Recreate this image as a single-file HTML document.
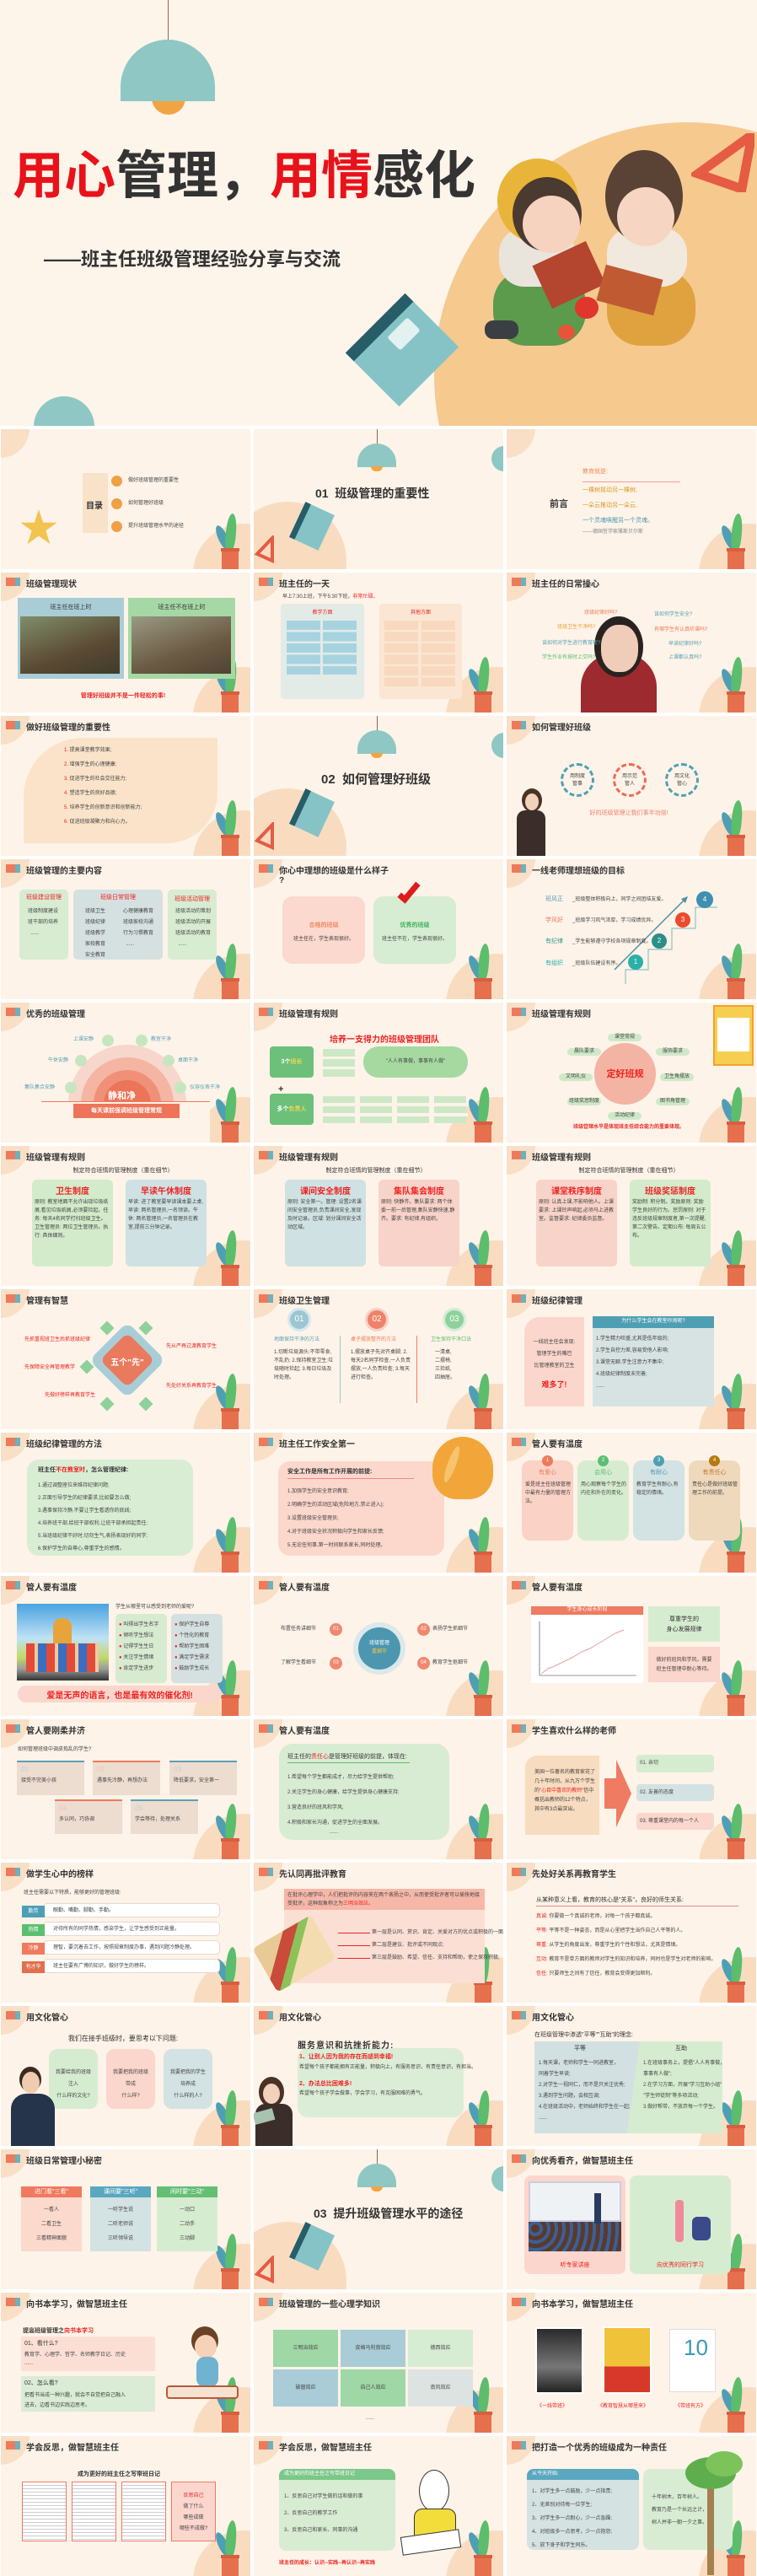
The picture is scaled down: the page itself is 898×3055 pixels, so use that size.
<!DOCTYPE html>
<html><head><meta charset="utf-8"><style>
*{margin:0;padding:0;box-sizing:border-box}
body{width:898px;height:3052px;position:relative;background:#fff;font-family:"Liberation Sans","Noto Sans CJK SC",sans-serif;color:#333;overflow:hidden}
.a{position:absolute}
.s{position:absolute;width:296px;height:166px;background:#fdf3e8;overflow:hidden}
.tl{position:absolute;left:-36px;top:-36px;width:70px;height:70px;border-radius:50%;background:#f9dfc5}
.ic{position:absolute;left:6px;top:6px;width:11px;height:10px;background:#ee7a5c}
.ic:after{content:"";position:absolute;left:11px;top:0;width:6px;height:10px;background:#6fb0be}
.tt{position:absolute;left:30px;top:5px;font-size:10px;font-weight:bold;color:#333;white-space:nowrap}
.pc{position:absolute;left:228px;top:112px;width:120px;height:120px;border-radius:50%;background:#f9dcc0}
.l1{position:absolute;left:258px;top:113px;width:11px;height:32px;border-radius:50%;background:#4f9fb4;transform:rotate(-25deg)}
.l2{position:absolute;left:267px;top:100px;width:12px;height:45px;border-radius:50% 50% 40% 40%;background:#5cbd6c;transform:rotate(5deg)}
.pot{position:absolute;left:262px;top:141px;width:20px;height:26px;background:#e66f4e}
.pot:before{content:"";position:absolute;left:-1px;top:0;width:22px;height:4px;background:#d75f40}
.t6{font-size:6px;line-height:9px;color:#444;white-space:nowrap}
.t7{font-size:7px;line-height:10px;color:#333;white-space:nowrap}
.c{text-align:center}
.r{color:#e22}
.box{position:absolute;border-radius:8px}
</style></head><body>

<!-- HERO -->
<div class="a" style="left:0;top:0;width:898px;height:505px;background:#fdf4ea;overflow:hidden">
  <div class="a" style="left:515px;top:145px;width:600px;height:600px;border-radius:50%;background:#f6c98f"></div>
  <div class="a" style="left:199px;top:0;width:1px;height:60px;background:#8a6a50"></div>
  <div class="a" style="left:180px;top:110px;width:40px;height:26px;border-radius:0 0 20px 20px;background:#f2a443"></div>
  <div class="a" style="left:143px;top:47px;width:112px;height:73px;border-radius:56px 56px 0 0;background:#8ec7c4"></div>
  <div class="a" style="left:15px;top:168px;font-size:61px;font-weight:bold;white-space:nowrap;letter-spacing:0px;line-height:80px"><span style="color:#e8121a">用心</span>管理，<span style="color:#e8121a">用情</span>感化</div>
  <div class="a" style="left:52px;top:290px;font-size:22px;font-weight:bold;white-space:nowrap">——班主任班级管理经验分享与交流</div>
  <!-- book -->
  <div class="a" style="left:432px;top:365px;width:90px;height:100px;background:#86c3c6;transform:rotate(45deg);border-left:14px solid #275d68"></div>
  <div class="a" style="left:462px;top:385px;width:34px;height:22px;background:#e3f1f0;transform:rotate(-45deg);border-radius:3px"></div>
  <!-- triangle -->
  <svg class="a" style="left:820px;top:158px" width="75" height="70"><polygon points="72,2 8,48 60,66" fill="none" stroke="#e65b44" stroke-width="11"/></svg>
  <!-- kids -->
  <div class="a" style="left:585px;top:320px;width:110px;height:90px;border-radius:40px;background:#5c9a4c"></div>
  <div class="a" style="left:575px;top:380px;width:40px;height:22px;border-radius:10px;background:#3a3f44"></div>
  <div class="a" style="left:592px;top:270px;width:90px;height:70px;border-radius:30px;background:#e9e5dd"></div>
  <div class="a" style="left:590px;top:188px;width:96px;height:100px;border-radius:50%;background:#e8b53a"></div>
  <div class="a" style="left:608px;top:210px;width:82px;height:88px;border-radius:50%;background:#4a3a30"></div>
  <div class="a" style="left:620px;top:232px;width:68px;height:68px;border-radius:50%;background:#f5d3bf"></div>
  <div class="a" style="left:720px;top:320px;width:105px;height:90px;border-radius:40px;background:#dfa23e"></div>
  <div class="a" style="left:720px;top:270px;width:95px;height:70px;border-radius:30px;background:#f1e9de"></div>
  <div class="a" style="left:718px;top:178px;width:92px;height:110px;border-radius:50%;background:#5a4334"></div>
  <div class="a" style="left:732px;top:222px;width:68px;height:70px;border-radius:50%;background:#f6d6c2"></div>
  <div class="a" style="left:640px;top:298px;width:70px;height:56px;background:#b4452f;transform:rotate(-25deg)"></div>
  <div class="a" style="left:712px;top:322px;width:70px;height:44px;background:#c05a33;transform:rotate(15deg)"></div>
  <div class="a" style="left:682px;top:352px;width:28px;height:26px;border-radius:50%;background:#e0362b"></div>
  <div class="a" style="left:662px;top:385px;width:20px;height:18px;border-radius:50%;background:#e6553a"></div>
  <div class="a" style="left:40px;top:470px;width:72px;height:72px;border-radius:50%;background:#8ec7c4"></div>
</div>

<!-- ROW 0 -->
<div class="s" style="left:1px;top:509px"><div class="tl"></div><div class="pc"></div><div class="l1"></div><div class="l2"></div><div class="pot"></div>
  <div class="a" style="left:97px;top:52px;width:30px;height:71px;background:#f8e2c8"></div>
  <div class="a" style="left:101px;top:82px;font-size:10px;font-weight:bold">目录</div>
  <div class="a" style="left:131px;top:55px;width:13px;height:13px;border-radius:50%;background:#eea046"></div>
  <div class="a" style="left:131px;top:82px;width:13px;height:13px;border-radius:50%;background:#eea046"></div>
  <div class="a" style="left:131px;top:109px;width:13px;height:13px;border-radius:50%;background:#eea046"></div>
  <div class="a t6" style="left:151px;top:57px">做好班级管理的重要性</div>
  <div class="a t6" style="left:151px;top:84px">如何管理好班级</div>
  <div class="a t6" style="left:151px;top:111px">提升班级管理水平的途径</div>
  <div class="a" style="left:22px;top:92px;font-size:46px;color:#f2c34f;line-height:50px">★</div>
</div>
<div class="s" style="left:301px;top:509px">
  <div class="a" style="left:-30px;top:86px;width:140px;height:140px;border-radius:50%;background:#f9dcc0"></div>
  <div class="a" style="left:146px;top:0;width:1px;height:18px;background:#8a6a50"></div>
  <div class="a" style="left:123px;top:17px;width:46px;height:28px;border-radius:23px 23px 0 0;background:#8ec7c4"></div>
  <div class="a" style="left:139px;top:44px;width:14px;height:6px;border-radius:0 0 7px 7px;background:#f2a443"></div>
  <div class="a" style="left:282px;top:20px;width:30px;height:30px;border-radius:50%;background:#8ec7c4"></div>
  <div class="a" style="left:73px;top:66px;font-size:14px;font-weight:bold;white-space:nowrap">01&nbsp; 班级管理的重要性</div>
  <div class="a" style="left:50px;top:92px;width:38px;height:46px;background:#86c3c6;transform:rotate(25deg);border-left:7px solid #275d68"></div>
  <svg class="a" style="left:0;top:126px" width="30" height="34"><polygon points="22,3 4,22 22,30" fill="none" stroke="#e65b44" stroke-width="4"/></svg>
</div>
<div class="s" style="left:601px;top:509px"><div class="tl"></div><div class="pc"></div><div class="l1"></div><div class="l2"></div><div class="pot"></div>
  <div class="a" style="left:51px;top:80px;font-size:11px;font-weight:bold">前言</div>
  <div class="a t7" style="left:90px;top:46px;color:#ee8c5c">教育就是:</div>
  <div class="a" style="left:90px;top:62px;width:116px;height:1px;background:#f39a9a"></div>
  <div class="a t7" style="left:90px;top:68px;color:#d89a2a">一棵树摇动另一棵树,</div>
  <div class="a t7" style="left:90px;top:86px;color:#d89a2a">一朵云推动另一朵云,</div>
  <div class="a t7" style="left:90px;top:104px;color:#4a9ab0">一个灵魂唤醒另一个灵魂。</div>
  <div class="a t6" style="left:90px;top:118px;color:#888">——德国哲学家雅斯贝尔斯</div>
</div>

<!-- ROW 1 -->
<div class="s" style="left:1px;top:679px"><div class="tl"></div><div class="pc"></div><div class="l1"></div><div class="l2"></div><div class="pot"></div><div class="ic"></div><div class="tt">班级管理现状</div>
  <div class="a" style="left:20px;top:30px;width:126px;height:96px;background:#a9cdd6"></div>
  <div class="a" style="left:151px;top:30px;width:127px;height:96px;background:#a6d8a6"></div>
  <div class="a t7 c" style="left:20px;top:37px;width:126px">班主任在班上时</div>
  <div class="a t7 c" style="left:151px;top:37px;width:127px">班主任不在班上时</div>
  <div class="a" style="left:23px;top:52px;width:118px;height:68px;background:linear-gradient(160deg,#7f8e6a,#5b4a34 60%,#3f3b2c)"></div>
  <div class="a" style="left:155px;top:52px;width:118px;height:68px;background:linear-gradient(160deg,#9a9a84,#6b5a43 60%,#504234)"></div>
  <div class="a t7 c r" style="left:0;top:142px;width:290px;font-weight:bold">管理好班级并不是一件轻松的事!</div>
</div>
<div class="s" style="left:301px;top:679px"><div class="tl"></div><div class="pc"></div><div class="l1"></div><div class="l2"></div><div class="pot"></div><div class="ic"></div><div class="tt">班主任的一天</div>
  <div class="a t6" style="left:34px;top:25px">早上7:30上班，下午5:30下班，<span class="r">非常忙碌。</span></div>
  <div class="box" style="left:32px;top:37px;width:99px;height:113px;background:#e3ebe7;border-radius:4px"></div>
  <div class="box" style="left:149px;top:37px;width:98px;height:113px;background:#fae6d3;border-radius:4px"></div>
  <div class="a t6 c r" style="left:32px;top:44px;width:99px">教学方面</div>
  <div class="a t6 c r" style="left:149px;top:44px;width:98px">其他方面</div>
  <div class="a" style="left:39px;top:57px;width:40px;height:64px;background:repeating-linear-gradient(#a7d3e0 0 11px,transparent 11px 13.5px)"></div>
  <div class="a" style="left:82px;top:57px;width:40px;height:64px;background:repeating-linear-gradient(#a7d3e0 0 11px,transparent 11px 13.5px)"></div>
  <div class="a" style="left:155px;top:57px;width:40px;height:78px;background:repeating-linear-gradient(#f8d9bf 0 11px,transparent 11px 13.5px)"></div>
  <div class="a" style="left:199px;top:57px;width:40px;height:78px;background:repeating-linear-gradient(#f8d9bf 0 11px,transparent 11px 13.5px)"></div>
</div>
<div class="s" style="left:601px;top:679px"><div class="tl"></div><div class="pc"></div><div class="l1"></div><div class="l2"></div><div class="pot"></div><div class="ic"></div><div class="tt">班主任的日常操心</div>
  <div class="a" style="left:88px;top:96px;width:90px;height:80px;border-radius:40px 40px 0 0;background:#9c2a2f"></div>
  <div class="a" style="left:104px;top:52px;width:58px;height:72px;border-radius:50%;background:#2a2220"></div>
  <div class="a" style="left:112px;top:62px;width:44px;height:56px;border-radius:45%;background:#f0cdb8"></div>
  <div class="a t6" style="left:92px;top:44px;color:#ee7a5c">班级纪律好吗?</div>
  <div class="a t6" style="left:60px;top:61px;color:#e8a040">班级卫生干净吗?</div>
  <div class="a t6" style="left:42px;top:80px;color:#5aa0b5">该如何对学生进行教育呢?</div>
  <div class="a t6" style="left:42px;top:97px;color:#5abf70">学生作业有按时上交吗?</div>
  <div class="a t6" style="left:175px;top:46px;color:#5aa0b5">该如何学生安全?</div>
  <div class="a t6" style="left:175px;top:64px;color:#ee7a5c">有哪学生有认真听课吗?</div>
  <div class="a t6" style="left:192px;top:81px;color:#5aa0b5">早读纪律好吗?</div>
  <div class="a t6" style="left:192px;top:97px;color:#5aa0b5">上课都认真吗?</div>
</div>

<!-- ROW 2 -->
<div class="s" style="left:1px;top:849px"><div class="tl"></div><div class="pc"></div><div class="l1"></div><div class="l2"></div><div class="pot"></div><div class="ic"></div><div class="tt">做好班级管理的重要性</div>
  <div class="a" style="left:27px;top:26px;width:230px;height:125px;background:#fae3c9;border-radius:70px 0 60px 0"></div>
  <div class="a t6" style="left:75px;top:37px"><span class="r">1.</span> 提高课堂教学效果;</div>
  <div class="a t6" style="left:75px;top:54px"><span class="r">2.</span> 增强学生的心理健康;</div>
  <div class="a t6" style="left:75px;top:71px"><span class="r">3.</span> 促进学生的社会交往能力;</div>
  <div class="a t6" style="left:75px;top:88px"><span class="r">4.</span> 塑造学生的良好品德;</div>
  <div class="a t6" style="left:75px;top:105px"><span class="r">5.</span> 培养学生的创新意识和创新能力;</div>
  <div class="a t6" style="left:75px;top:122px"><span class="r">6.</span> 促进班级凝聚力和向心力。</div>
</div>
<div class="s" style="left:301px;top:849px">
  <div class="a" style="left:-30px;top:86px;width:140px;height:140px;border-radius:50%;background:#f9dcc0"></div>
  <div class="a" style="left:146px;top:0;width:1px;height:18px;background:#8a6a50"></div>
  <div class="a" style="left:123px;top:17px;width:46px;height:28px;border-radius:23px 23px 0 0;background:#8ec7c4"></div>
  <div class="a" style="left:139px;top:44px;width:14px;height:6px;border-radius:0 0 7px 7px;background:#f2a443"></div>
  <div class="a" style="left:282px;top:20px;width:30px;height:30px;border-radius:50%;background:#8ec7c4"></div>
  <div class="a" style="left:80px;top:64px;font-size:15px;font-weight:bold;white-space:nowrap">02&nbsp; 如何管理好班级</div>
  <div class="a" style="left:50px;top:92px;width:38px;height:46px;background:#86c3c6;transform:rotate(25deg);border-left:7px solid #275d68"></div>
  <svg class="a" style="left:0;top:126px" width="30" height="34"><polygon points="22,3 4,22 22,30" fill="none" stroke="#e65b44" stroke-width="4"/></svg>
</div>
<div class="s" style="left:601px;top:849px"><div class="tl"></div><div class="pc"></div><div class="l1"></div><div class="l2"></div><div class="pot"></div><div class="ic"></div><div class="tt">如何管理好班级</div>
  <div class="a t6 c" style="left:64px;top:56px;width:40px;height:40px;border-radius:50%;border:3px dashed #4f9fb4;padding-top:9px;line-height:9px;white-space:normal">用制度<br>管事</div>
  <div class="a t6 c" style="left:126px;top:56px;width:40px;height:40px;border-radius:50%;border:3px dashed #ee6a54;padding-top:9px;line-height:9px;white-space:normal">用示范<br>管人</div>
  <div class="a t6 c" style="left:188px;top:56px;width:40px;height:40px;border-radius:50%;border:3px dashed #4f9fb4;padding-top:9px;line-height:9px;white-space:normal">用文化<br>管心</div>
  <div class="a t7 c" style="left:70px;top:111px;width:150px;color:#ef8070">好的班级管理让我们事半功倍!</div>
  <div class="a" style="left:18px;top:86px;width:24px;height:28px;border-radius:50%;background:#4a3325"></div>
  <div class="a" style="left:22px;top:92px;width:16px;height:20px;border-radius:50%;background:#f3d2bd"></div>
  <div class="a" style="left:12px;top:112px;width:34px;height:56px;border-radius:10px 10px 0 0;background:#3a2d2a"></div>
</div>

<!-- ROW 3 -->
<div class="s" style="left:1px;top:1019px"><div class="tl"></div><div class="pc"></div><div class="l1"></div><div class="l2"></div><div class="pot"></div><div class="ic"></div><div class="tt">班级管理的主要内容</div>
  <div class="box" style="left:22px;top:36px;width:58px;height:83px;background:#d8ecd2;border-radius:5px"></div>
  <div class="box" style="left:86px;top:36px;width:106px;height:83px;background:#d5e1e0;border-radius:5px"></div>
  <div class="box" style="left:198px;top:36px;width:58px;height:83px;background:#d8ecd2;border-radius:5px"></div>
  <div class="a t7 c r" style="left:22px;top:41px;width:58px">班级建设管理</div>
  <div class="a t7 c r" style="left:86px;top:41px;width:106px">班级日常管理</div>
  <div class="a t7 c r" style="left:198px;top:43px;width:58px">班级活动管理</div>
  <div class="a t6" style="left:32px;top:56px;line-height:13px">班级制度建设<br>班干部的培养<br>&nbsp;&nbsp;......</div>
  <div class="a t6" style="left:100px;top:56px;line-height:13px">班级卫生<br>班级纪律<br>班级教学<br>家校教育<br>安全教育</div>
  <div class="a t6" style="left:145px;top:56px;line-height:13px">心理健康教育<br>班级家校沟通<br>行为习惯教育<br>&nbsp;&nbsp;......</div>
  <div class="a t6" style="left:207px;top:56px;line-height:13px">班级活动的策划<br>班级活动的开展<br>班级活动的教育<br>&nbsp;&nbsp;......</div>
</div>
<div class="s" style="left:301px;top:1019px"><div class="tl"></div><div class="pc"></div><div class="l1"></div><div class="l2"></div><div class="pot"></div><div class="ic"></div><div class="tt">你心中理想的班级是什么样子<br>?</div>
  <div class="box" style="left:34px;top:44px;width:98px;height:80px;background:#fbd9cf;border-radius:12px"></div>
  <div class="box" style="left:142px;top:44px;width:98px;height:80px;background:#d6ecd3;border-radius:12px"></div>
  <div class="a t7 c" style="left:34px;top:74px;width:98px;color:#ef8a60;font-weight:bold">合格的班级</div>
  <div class="a t6 c" style="left:34px;top:91px;width:98px">班主任在，学生表现很好。</div>
  <div class="a t7 c" style="left:142px;top:74px;width:98px;color:#3db35a;font-weight:bold">优秀的班级</div>
  <div class="a t6 c" style="left:142px;top:91px;width:98px">班主任不在，学生表现很好。</div>
  <div class="a" style="left:178px;top:24px;width:12px;height:28px;border-right:7px solid #dd1c1c;border-bottom:7px solid #dd1c1c;transform:rotate(40deg)"></div>
</div>
<div class="s" style="left:601px;top:1019px"><div class="tl"></div><div class="pc"></div><div class="l1"></div><div class="l2"></div><div class="pot"></div><div class="ic"></div><div class="tt">一线老师理想班级的目标</div>
  <svg class="a" style="left:0;top:0" width="296" height="166"><polyline points="141,148 141,131 168,131 168,107 196,107 196,82 224,82 224,57 250,57" fill="none" stroke="#8fc2c8" stroke-width="1.2"/><line x1="128" y1="131" x2="213" y2="46" stroke="#4f8fa0" stroke-width="1.5"/><polygon points="215,44 207,47 212,52" fill="#4f8fa0"/></svg>
  <div class="a t6 c" style="left:144px;top:113px;width:18px;height:18px;border-radius:50%;background:#2ab0a8;color:#fff;line-height:18px;font-size:8px">1</div>
  <div class="a t6 c" style="left:172px;top:88px;width:18px;height:18px;border-radius:50%;background:#2b8f88;color:#fff;line-height:18px;font-size:8px">2</div>
  <div class="a t6 c" style="left:200px;top:63px;width:18px;height:18px;border-radius:50%;background:#ea4b2e;color:#fff;line-height:18px;font-size:8px">3</div>
  <div class="a t6 c" style="left:225px;top:38px;width:20px;height:20px;border-radius:50%;background:#3f8fb0;color:#fff;line-height:20px;font-size:8px">4</div>
  <div class="a t7" style="left:46px;top:43px;color:#4f9fb4">班风正</div><div class="a t6" style="left:78px;top:44px">_班级整体积极向上，同学之间团结友爱。</div>
  <div class="a t7" style="left:46px;top:68px;color:#ee7a5c">学风好</div><div class="a t6" style="left:78px;top:69px">_班级学习风气浓厚，学习成绩优异。</div>
  <div class="a t7" style="left:46px;top:93px;color:#3c9a8e">有纪律</div><div class="a t6" style="left:78px;top:94px">_学生能够遵守学校各项规章制度。</div>
  <div class="a t7" style="left:46px;top:119px;color:#2ab0a8">有组织</div><div class="a t6" style="left:78px;top:120px">_班级队伍建设有序。</div>
</div>

<!-- ROW 4 -->
<div class="s" style="left:1px;top:1189px"><div class="tl"></div><div class="pc"></div><div class="l1"></div><div class="l2"></div><div class="pot"></div><div class="ic"></div><div class="tt">优秀的班级管理</div>
  <div class="a" style="left:80px;top:50px;width:140px;height:140px;border-radius:50%;background:#f7d6cb"></div>
  <div class="a" style="left:95px;top:65px;width:110px;height:110px;border-radius:50%;background:#f4b5a3"></div>
  <div class="a" style="left:110px;top:80px;width:80px;height:80px;border-radius:50%;background:#f09079"></div>
  <div class="a" style="left:122px;top:92px;width:56px;height:56px;border-radius:50%;background:#ec7458"></div>
  <div class="a" style="left:48px;top:118px;width:200px;height:50px;background:#fdf3e8"></div>
  <div class="a" style="left:48px;top:117px;width:200px;height:1px;background:#ee7a5c"></div>
  <div class="a" style="left:127px;top:102px;font-size:11px;font-weight:bold;color:#fff">静和净</div>
  <div class="a t7 c" style="left:86px;top:120px;width:126px;height:17px;line-height:17px;background:#ee7459;color:#fff;font-weight:bold">每天课前强调班级管理常规</div>
  <div class="a" style="left:120px;top:38px;width:14px;height:14px;border-radius:50%;background:#c7e6bf"></div>
  <div class="a" style="left:160px;top:38px;width:14px;height:14px;border-radius:50%;background:#c7e6bf"></div>
  <div class="a" style="left:88px;top:62px;width:14px;height:14px;border-radius:50%;background:#c7e6bf"></div>
  <div class="a" style="left:192px;top:62px;width:14px;height:14px;border-radius:50%;background:#c7e6bf"></div>
  <div class="a" style="left:76px;top:94px;width:14px;height:14px;border-radius:50%;background:#c7e6bf"></div>
  <div class="a" style="left:206px;top:94px;width:14px;height:14px;border-radius:50%;background:#c7e6bf"></div>
  <div class="a t6" style="left:86px;top:40px;color:#5aa0b5">上课安静</div><div class="a t6" style="left:178px;top:40px;color:#5aa0b5">教室干净</div>
  <div class="a t6" style="left:56px;top:65px;color:#5aa0b5">午休安静</div><div class="a t6" style="left:210px;top:65px;color:#5aa0b5">桌面干净</div>
  <div class="a t6" style="left:28px;top:97px;color:#5aa0b5">集队集合安静</div><div class="a t6" style="left:224px;top:97px;color:#5aa0b5">仪容仪表干净</div>
</div>
<div class="s" style="left:301px;top:1189px"><div class="tl"></div><div class="pc"></div><div class="l1"></div><div class="l2"></div><div class="pot"></div><div class="ic"></div><div class="tt">班级管理有规则</div>
  <div class="a c r" style="left:60px;top:35px;width:190px;font-size:10px;font-weight:bold">培养一支得力的班级管理团队</div>
  <div class="box" style="left:19px;top:52px;width:52px;height:37px;background:#6cc07a;border-radius:4px"></div>
  <div class="a t7 c" style="left:19px;top:66px;width:52px;color:#fff;font-weight:bold">3个<span style="color:#f6d44a">班长</span></div>
  <div class="box" style="left:130px;top:52px;width:124px;height:37px;background:#a5d9a0;border-radius:18px"></div>
  <div class="a t6 c" style="left:130px;top:66px;width:124px">"人人有事做，事事有人做"</div>
  <div class="a" style="left:82px;top:55px;width:38px;height:9px;background:#cde8c6"></div>
  <div class="a" style="left:82px;top:67px;width:38px;height:9px;background:#cde8c6"></div>
  <div class="a" style="left:82px;top:79px;width:38px;height:9px;background:#cde8c6"></div>
  <div class="a" style="left:29px;top:97px;font-size:11px;font-weight:bold">+</div>
  <div class="box" style="left:19px;top:108px;width:52px;height:37px;background:#6cc07a;border-radius:4px"></div>
  <div class="a t7 c" style="left:19px;top:122px;width:52px;color:#fff;font-weight:bold">多个<span style="color:#f6d44a">负责人</span></div>
  <div class="a" style="left:82px;top:111px;width:172px;height:32px;background:repeating-linear-gradient(90deg,#cde8c6 0 38px,transparent 38px 44px)"></div>
  <div class="a" style="left:82px;top:119px;width:172px;height:4px;background:#fdf3e8"></div>
  <div class="a" style="left:82px;top:131px;width:172px;height:4px;background:#fdf3e8"></div>
</div>
<div class="s" style="left:601px;top:1189px"><div class="tl"></div><div class="pc"></div><div class="l1"></div><div class="l2"></div><div class="pot"></div><div class="ic"></div><div class="tt">班级管理有规则</div>
  <div class="a" style="left:104px;top:48px;width:73px;height:73px;border-radius:50%;background:#f4b4a3"></div>
  <div class="a c r" style="left:104px;top:76px;width:73px;font-size:11px;font-weight:bold">定好班规</div>
  <div class="a t6 c" style="left:120px;top:37px;width:40px;background:#cfe9c8;border-radius:5px">课堂常规</div>
  <div class="a t6 c" style="left:72px;top:54px;width:40px;background:#cfe9c8;border-radius:5px">晨队要求</div>
  <div class="a t6 c" style="left:177px;top:54px;width:40px;background:#cfe9c8;border-radius:5px">服饰要求</div>
  <div class="a t6 c" style="left:62px;top:84px;width:40px;background:#cfe9c8;border-radius:5px">文明礼仪</div>
  <div class="a t6 c" style="left:182px;top:84px;width:40px;background:#cfe9c8;border-radius:5px">卫生角摆放</div>
  <div class="a t6 c" style="left:72px;top:113px;width:40px;background:#cfe9c8;border-radius:5px">班级奖惩制度</div>
  <div class="a t6 c" style="left:177px;top:113px;width:40px;background:#cfe9c8;border-radius:5px">图书角管理</div>
  <div class="a t6 c" style="left:120px;top:130px;width:40px;background:#cfe9c8;border-radius:5px">活动纪律</div>
  <div class="a t6 c r" style="left:30px;top:144px;width:230px;font-weight:bold">班级管理水平是体现班主任综合能力的重要体现。</div>
  <div class="a" style="left:245px;top:3px;width:48px;height:72px;background:#f7cf50;border:2px solid #f3a030"></div>
  <div class="a" style="left:250px;top:18px;width:38px;height:40px;background:#fff"></div>
</div>

<!-- ROW 5 -->
<div class="s" style="left:1px;top:1359px"><div class="tl"></div><div class="pc"></div><div class="l1"></div><div class="l2"></div><div class="pot"></div><div class="ic"></div><div class="tt">班级管理有规则</div>
  <div class="a t7 c" style="left:0;top:25px;width:290px">制定符合班情的管理制度（重在细节）</div>
  <div class="box" style="left:37px;top:40px;width:96px;height:103px;background:#d3ebcb;border-radius:6px"></div>
  <div class="box" style="left:148px;top:40px;width:96px;height:103px;background:#cfe1e2;border-radius:6px"></div>
  <div class="a c r" style="left:37px;top:45px;width:96px;font-size:10px;font-weight:bold">卫生制度</div>
  <div class="a c r" style="left:148px;top:45px;width:96px;font-size:10px;font-weight:bold">早读午休制度</div>
  <div class="a t6" style="left:40px;top:62px;line-height:10px;white-space:normal;width:90px">原则: 教室地面不允许出现垃圾纸屑,看见垃圾纸屑,必须要捡起。任务: 每天4名同学打扫班级卫生。卫生管理员: 两位卫生管理员。执行: 具体细则。</div>
  <div class="a t6" style="left:151px;top:62px;line-height:10px;white-space:normal;width:90px">早读: 进了教室要早读课本要上桌,早读: 两名管理员,一名领读。午休: 两名管理员,一名管理员在教室,提前三分钟记录。</div>
</div>
<div class="s" style="left:301px;top:1359px"><div class="tl"></div><div class="pc"></div><div class="l1"></div><div class="l2"></div><div class="pot"></div><div class="ic"></div><div class="tt">班级管理有规则</div>
  <div class="a t7 c" style="left:0;top:25px;width:290px">制定符合班情的管理制度（重在细节）</div>
  <div class="box" style="left:37px;top:40px;width:96px;height:103px;background:#cfe1e2;border-radius:6px"></div>
  <div class="box" style="left:148px;top:40px;width:96px;height:103px;background:#f8d3c9;border-radius:6px"></div>
  <div class="a c r" style="left:37px;top:45px;width:96px;font-size:10px;font-weight:bold">课间安全制度</div>
  <div class="a c r" style="left:148px;top:45px;width:96px;font-size:10px;font-weight:bold">集队集会制度</div>
  <div class="a t6" style="left:40px;top:62px;line-height:10px;white-space:normal;width:90px">原则: 安全第一。管理: 设置2名课间安全管理员,负责课间安全,发现及时记录。区域: 划分课间安全活动区域。</div>
  <div class="a t6" style="left:151px;top:62px;line-height:10px;white-space:normal;width:90px">原则: 快静齐。集队要求: 两个体委一前一后管理,集队安静快速,静齐。要求: 有纪律,有组织。</div>
</div>
<div class="s" style="left:601px;top:1359px"><div class="tl"></div><div class="pc"></div><div class="l1"></div><div class="l2"></div><div class="pot"></div><div class="ic"></div><div class="tt">班级管理有规则</div>
  <div class="a t7 c" style="left:0;top:25px;width:290px">制定符合班情的管理制度（重在细节）</div>
  <div class="box" style="left:35px;top:40px;width:96px;height:103px;background:#f8d3c9;border-radius:6px"></div>
  <div class="box" style="left:146px;top:40px;width:96px;height:103px;background:#d3ebcb;border-radius:6px"></div>
  <div class="a c r" style="left:35px;top:45px;width:96px;font-size:10px;font-weight:bold">课堂秩序制度</div>
  <div class="a c r" style="left:146px;top:45px;width:96px;font-size:10px;font-weight:bold">班级奖惩制度</div>
  <div class="a t6" style="left:38px;top:62px;line-height:10px;white-space:normal;width:90px">原则: 认真上课,不影响他人。上课要求: 上课铃声响起,必须马上进教室。监督要求: 纪律委员监督。</div>
  <div class="a t6" style="left:149px;top:62px;line-height:10px;white-space:normal;width:90px">奖励制: 积分制。奖励原则: 奖励学生良好的行为。惩罚原则: 对于违反班级规章制度者,第一次提醒,第二次警告。定期公布: 每周五公布。</div>
</div>

<!-- ROW 6 -->
<div class="s" style="left:1px;top:1529px"><div class="tl"></div><div class="pc"></div><div class="l1"></div><div class="l2"></div><div class="pot"></div><div class="ic"></div><div class="tt">管理有智慧</div>
  <div class="a" style="left:118px;top:52px;width:64px;height:64px;background:#a9cdd6;transform:rotate(45deg);border-radius:10px"></div>
  <div class="a" style="left:127px;top:61px;width:46px;height:46px;background:#ea7a5e;transform:rotate(45deg);border-radius:8px"></div>
  <div class="a c" style="left:118px;top:78px;width:64px;font-size:10px;color:#fff;font-weight:bold">五个"先"</div>
  <div class="a" style="left:120px;top:40px;width:12px;height:12px;background:#8fd19b;transform:rotate(45deg)"></div>
  <div class="a" style="left:166px;top:40px;width:12px;height:12px;background:#8fd19b;transform:rotate(45deg)"></div>
  <div class="a" style="left:96px;top:86px;width:12px;height:12px;background:#8fd19b;transform:rotate(45deg)"></div>
  <div class="a" style="left:120px;top:130px;width:12px;height:12px;background:#8fd19b;transform:rotate(45deg)"></div>
  <div class="a" style="left:166px;top:130px;width:12px;height:12px;background:#8fd19b;transform:rotate(45deg)"></div>
  <div class="a t6 r" style="left:28px;top:56px">先抓重视班卫生后抓班级纪律</div>
  <div class="a t6 r" style="left:28px;top:89px">先保障安全再管理教学</div>
  <div class="a t6 r" style="left:52px;top:122px">先做好榜样再教育学生</div>
  <div class="a t6 r" style="left:196px;top:64px">先从严再过渡教育学生</div>
  <div class="a t6 r" style="left:196px;top:111px">先处好关系再教育学生</div>
</div>
<div class="s" style="left:301px;top:1529px"><div class="tl"></div><div class="pc"></div><div class="l1"></div><div class="l2"></div><div class="pot"></div><div class="ic"></div><div class="tt">班级卫生管理</div>
  <div class="a c" style="left:40px;top:22px;width:28px;height:28px;border-radius:50%;background:#9cc6d2;border:3px solid #d5e8ee;color:#fff;font-size:10px;line-height:22px">01</div>
  <div class="a c" style="left:132px;top:22px;width:28px;height:28px;border-radius:50%;background:#ef826a;border:3px solid #f8d0c6;color:#fff;font-size:10px;line-height:22px">02</div>
  <div class="a c" style="left:224px;top:22px;width:28px;height:28px;border-radius:50%;background:#8fd19b;border:3px solid #d3eed8;color:#fff;font-size:10px;line-height:22px">03</div>
  <div class="a t6" style="left:24px;top:56px;color:#5aa0b5">地面保持干净的方法</div>
  <div class="a t6" style="left:115px;top:56px;color:#ee7a5c">桌子摆放整齐的方法</div>
  <div class="a t6" style="left:210px;top:56px;color:#5abf70">卫生保持干净口诀</div>
  <div class="a" style="left:102px;top:55px;width:1px;height:80px;background:#9cc6d2"></div>
  <div class="a" style="left:193px;top:55px;width:1px;height:80px;background:#ef826a"></div>
  <div class="a t6" style="left:24px;top:70px;line-height:10px;white-space:normal;width:72px">1.切断垃圾源头:不带零食,不乱扔; 2.保持教室卫生:垃圾随时捡起; 3.每日垃圾及时处理。</div>
  <div class="a t6" style="left:115px;top:70px;line-height:10px;white-space:normal;width:72px">1.摆放桌子先对齐桌脚; 2.每天2名同学检查,一人负责摆放,一人负责检查; 3.每天进行检查。</div>
  <div class="a t6" style="left:215px;top:70px;line-height:10px">一清桌,<br>二摆椅,<br>三捡纸,<br>四抽屉。</div>
</div>
<div class="s" style="left:601px;top:1529px"><div class="tl"></div><div class="pc"></div><div class="l1"></div><div class="l2"></div><div class="pot"></div><div class="ic"></div><div class="tt">班级纪律管理</div>
  <div class="box" style="left:21px;top:33px;width:71px;height:106px;background:#fbd6cc;border-radius:18px 0 0 0"></div>
  <div class="a t6 c" style="left:21px;top:56px;width:71px;line-height:14px">一线班主任会发现:<br>管理学生的嘴巴<br>比管理教室的卫生</div>
  <div class="a c r" style="left:21px;top:106px;width:71px;font-size:9px;font-weight:bold">难多了!</div>
  <div class="a" style="left:102px;top:32px;width:144px;height:14px;background:#4f9fb4"></div>
  <div class="a t6 c" style="left:102px;top:34px;width:144px;color:#fff">为什么学生会在教室吵闹呢?</div>
  <div class="a" style="left:102px;top:46px;width:144px;height:93px;background:#d6e3e2"></div>
  <div class="a t6" style="left:106px;top:52px;line-height:14px">1.学生精力旺盛,尤其是低年级的;<br>2.学生自控力差,容易受他人影响;<br>3.课堂无聊,学生注意力不集中;<br>4.班级纪律制度未完善;<br>......</div>
</div>

<!-- ROW 7 -->
<div class="s" style="left:1px;top:1699px"><div class="tl"></div><div class="pc"></div><div class="l1"></div><div class="l2"></div><div class="pot"></div><div class="ic"></div><div class="tt">班级纪律管理的方法</div>
  <div class="box" style="left:31px;top:32px;width:197px;height:114px;background:#d9edd4;border-radius:14px"></div>
  <div class="a t7" style="left:44px;top:40px;font-weight:bold">班主任<span class="r">不在教室时</span>，怎么管理纪律:</div>
  <div class="a t6" style="left:44px;top:56px;line-height:15px">1.通过调整座位来维持纪律问题;<br>2.正面引导学生的纪律要求,比如要怎么做;<br>3.遇事保持冷静,不要让学生看透你的底线;<br>4.培养班干部,给班干部权利,让班干部承担起责任;<br>5.当班级纪律不好时,切勿生气,表扬表现好的同学;<br>6.保护学生的自尊心,尊重学生的感情。</div>
</div>
<div class="s" style="left:301px;top:1699px"><div class="tl"></div><div class="pc"></div><div class="l1"></div><div class="l2"></div><div class="pot"></div><div class="ic"></div><div class="tt">班主任工作安全第一</div>
  <div class="box" style="left:29px;top:34px;width:197px;height:112px;background:#fbd7cc;border-radius:14px"></div>
  <div class="a t7" style="left:40px;top:42px;font-weight:bold">安全工作是所有工作开展的前提:</div>
  <div class="a" style="left:40px;top:54px;width:150px;height:1px;background:#e88"></div>
  <div class="a t6" style="left:40px;top:62px;line-height:16px">1.加强学生的安全意识教育;<br>2.明确学生的活动区域(危险地方,禁止进入);<br>3.设置班级安全管理员;<br>4.对于班级安全状况积极向学生和家长反馈;<br>5.无论任何事,第一时间联系家长,同时处理。</div>
  <div class="a" style="left:212px;top:5px;width:72px;height:74px;border-radius:50% 50% 40% 40%;background:#f2a63a"></div>
  <div class="a" style="left:230px;top:15px;width:10px;height:45px;border-radius:50%;background:#f7c36e;transform:rotate(20deg)"></div>
</div>
<div class="s" style="left:601px;top:1699px"><div class="tl"></div><div class="pc"></div><div class="l1"></div><div class="l2"></div><div class="pot"></div><div class="ic"></div><div class="tt">管人要有温度</div>
  <div class="box" style="left:18px;top:33px;width:61px;height:95px;background:#fbd2c6;border-radius:10px"></div>
  <div class="box" style="left:84px;top:33px;width:61px;height:95px;background:#d6ecd0;border-radius:10px"></div>
  <div class="box" style="left:150px;top:33px;width:61px;height:95px;background:#d3e2e3;border-radius:10px"></div>
  <div class="box" style="left:216px;top:33px;width:61px;height:95px;background:#efd9bd;border-radius:10px"></div>
  <div class="a t6 c" style="left:42px;top:27px;width:13px;height:13px;border-radius:50%;background:#ee7a5c;color:#fff;line-height:13px">1</div>
  <div class="a t6 c" style="left:108px;top:27px;width:13px;height:13px;border-radius:50%;background:#5abf70;color:#fff;line-height:13px">2</div>
  <div class="a t6 c" style="left:174px;top:27px;width:13px;height:13px;border-radius:50%;background:#4f9fb4;color:#fff;line-height:13px">3</div>
  <div class="a t6 c" style="left:240px;top:27px;width:13px;height:13px;border-radius:50%;background:#b87a10;color:#fff;line-height:13px">4</div>
  <div class="a t7 c" style="left:18px;top:43px;width:61px;color:#ee7a5c">有爱心</div>
  <div class="a t7 c" style="left:84px;top:43px;width:61px;color:#5abf70">会用心</div>
  <div class="a t7 c" style="left:150px;top:43px;width:61px;color:#4f9fb4">有耐心</div>
  <div class="a t7 c" style="left:216px;top:43px;width:61px;color:#c07a20">有责任心</div>
  <div class="a t6" style="left:22px;top:57px;width:54px;white-space:normal;line-height:10px">爱是班主任班级管理中最有力量的管理方法。</div>
  <div class="a t6" style="left:88px;top:57px;width:54px;white-space:normal;line-height:10px">用心观察每个学生的内在和外在的变化。</div>
  <div class="a t6" style="left:154px;top:57px;width:54px;white-space:normal;line-height:10px">教育学生有耐心,有稳定的情绪。</div>
  <div class="a t6" style="left:220px;top:57px;width:54px;white-space:normal;line-height:10px">责任心是做好班级管理工作的前提。</div>
</div>

<!-- ROW 8 -->
<div class="s" style="left:1px;top:1869px"><div class="tl"></div><div class="pc"></div><div class="l1"></div><div class="l2"></div><div class="pot"></div><div class="ic"></div><div class="tt">管人要有温度</div>
  <div class="a" style="left:19px;top:33px;width:109px;height:91px;background:linear-gradient(#4aa3e0,#bfe2f5 45%,#c4d86a 70%,#9a9a9a 85%,#333 100%)"></div>
  <div class="a" style="left:62px;top:50px;width:22px;height:60px;border-radius:10px;background:#e6a43a"></div>
  <div class="a" style="left:30px;top:80px;width:86px;height:34px;background:repeating-linear-gradient(90deg,#e24a3a 0 10px,#f0c9a0 10px 14px,#3a6ec0 14px 24px)"></div>
  <div class="a t6" style="left:136px;top:33px">学生从哪里可以感受到老师的爱呢?</div>
  <div class="box" style="left:136px;top:45px;width:61px;height:82px;background:#d7ebd1;border-radius:5px"></div>
  <div class="box" style="left:202px;top:45px;width:61px;height:82px;background:#d5e1e0;border-radius:5px"></div>
  <div class="a t6" style="left:140px;top:52px;line-height:13px"><span class="r">●</span> 叫得出学生名字<br><span class="r">●</span> 倾听学生想法<br><span class="r">●</span> 记得学生生日<br><span class="r">●</span> 关注学生情绪<br><span class="r">●</span> 肯定学生进步</div>
  <div class="a t6" style="left:206px;top:52px;line-height:13px"><span class="r">●</span> 保护学生自尊<br><span class="r">●</span> 个性化的教育<br><span class="r">●</span> 帮助学生困难<br><span class="r">●</span> 满足学生需求<br><span class="r">●</span> 鼓励学生成长</div>
  <div class="box" style="left:20px;top:130px;width:242px;height:20px;background:#fbd6cc;border-radius:10px"></div>
  <div class="a c r" style="left:20px;top:133px;width:242px;font-size:10px;font-weight:bold">爱是无声的语言，也是最有效的催化剂!</div>
</div>
<div class="s" style="left:301px;top:1869px"><div class="tl"></div><div class="pc"></div><div class="l1"></div><div class="l2"></div><div class="pot"></div><div class="ic"></div><div class="tt">管人要有温度</div>
  <div class="a" style="left:118px;top:55px;width:62px;height:62px;border-radius:50%;background:#dce8ea"></div>
  <div class="a" style="left:124px;top:61px;width:50px;height:50px;border-radius:50%;background:#4c96b0"></div>
  <div class="a t6 c" style="left:124px;top:75px;width:50px;color:#fff;line-height:10px">班级管理<br><span style="color:#f6c83a">重细节</span></div>
  <div class="a t6 c" style="left:90px;top:56px;width:15px;height:15px;border-radius:50%;background:#f08870;color:#fff;line-height:15px">01</div>
  <div class="a t6 c" style="left:194px;top:56px;width:15px;height:15px;border-radius:50%;background:#f08870;color:#fff;line-height:15px">02</div>
  <div class="a t6 c" style="left:90px;top:96px;width:15px;height:15px;border-radius:50%;background:#f08870;color:#fff;line-height:15px">03</div>
  <div class="a t6 c" style="left:194px;top:96px;width:15px;height:15px;border-radius:50%;background:#f08870;color:#fff;line-height:15px">04</div>
  <div class="a t6" style="left:32px;top:59px">布置任务讲细节</div>
  <div class="a t6" style="left:212px;top:59px">表扬学生抓细节</div>
  <div class="a t6" style="left:32px;top:99px">了解学生看细节</div>
  <div class="a t6" style="left:212px;top:99px">教育学生抠细节</div>
</div>
<div class="s" style="left:601px;top:1869px"><div class="tl"></div><div class="pc"></div><div class="l1"></div><div class="l2"></div><div class="pot"></div><div class="ic"></div><div class="tt">管人要有温度</div>
  <div class="a" style="left:29px;top:36px;width:133px;height:10px;background:#ee7b62"></div>
  <div class="a t6 c" style="left:29px;top:36px;width:133px;color:#fff">学生身心成长阶段</div>
  <div class="a" style="left:29px;top:46px;width:133px;height:81px;background:#fff"></div>
  <svg class="a" style="left:29px;top:46px" width="133" height="81"><polyline points="12,70 20,64 30,60 40,55 50,50 60,44 70,40 80,34 90,28 100,22 110,18" fill="none" stroke="#e8a0a0" stroke-width="1"/><line x1="10" y1="72" x2="125" y2="72" stroke="#333" stroke-width="0.6"/><line x1="10" y1="8" x2="10" y2="72" stroke="#333" stroke-width="0.6"/></svg>
  <div class="a" style="left:168px;top:36px;width:85px;height:42px;background:#d6ecd0"></div>
  <div class="a t7 c" style="left:168px;top:46px;width:85px;line-height:12px">尊重学生的<br>身心发展规律</div>
  <div class="a" style="left:168px;top:84px;width:85px;height:42px;background:#fbd6cc"></div>
  <div class="a t6 c" style="left:168px;top:95px;width:85px;line-height:11px">做好的班风和学风，需要<br>班主任管理中耐心等待。</div>
</div>

<!-- ROW 9 -->
<div class="s" style="left:1px;top:2039px"><div class="tl"></div><div class="pc"></div><div class="l1"></div><div class="l2"></div><div class="pot"></div><div class="ic"></div><div class="tt">管人要刚柔并济</div>
  <div class="a t6" style="left:20px;top:32px">如何管理班级中调皮捣乱的学生?</div>
  <div class="a" style="left:19px;top:49px;width:80px;height:41px;background:#eddcd0;border-top:2px solid #5aa0b5"></div>
  <div class="a" style="left:109px;top:49px;width:80px;height:41px;background:#eddcd0;border-top:2px solid #ee7a5c"></div>
  <div class="a" style="left:200px;top:49px;width:80px;height:41px;background:#eddcd0;border-top:2px solid #5aa0b5"></div>
  <div class="a" style="left:64px;top:95px;width:80px;height:41px;background:#eddcd0;border-top:2px solid #ee7a5c"></div>
  <div class="a" style="left:154px;top:95px;width:80px;height:41px;background:#eddcd0;border-top:2px solid #5aa0b5"></div>
  <div class="a t6" style="left:24px;top:55px;color:#b9d3da;font-size:8px">01</div><div class="a t6" style="left:24px;top:69px">接受不完美小孩</div>
  <div class="a t6" style="left:114px;top:55px;color:#f5c0b2;font-size:8px">02</div><div class="a t6" style="left:114px;top:69px">遇事先冷静，再想办法</div>
  <div class="a t6" style="left:205px;top:55px;color:#b9d3da;font-size:8px">03</div><div class="a t6" style="left:205px;top:69px">降低要求，安全第一</div>
  <div class="a t6" style="left:69px;top:101px;color:#f5c0b2;font-size:8px">04</div><div class="a t6" style="left:69px;top:115px">多认同，巧协调</div>
  <div class="a t6" style="left:159px;top:101px;color:#b9d3da;font-size:8px">05</div><div class="a t6" style="left:159px;top:115px">学会等待，处理关系</div>
</div>
<div class="s" style="left:301px;top:2039px"><div class="tl"></div><div class="pc"></div><div class="l1"></div><div class="l2"></div><div class="pot"></div><div class="ic"></div><div class="tt">管人要有温度</div>
  <div class="box" style="left:30px;top:29px;width:202px;height:114px;background:#d8ecd3;border-radius:16px"></div>
  <div class="a t7" style="left:40px;top:40px">班主任的<span class="r">责任心</span>是管理好班级的前提，体现在:</div>
  <div class="a" style="left:40px;top:51px;width:145px;height:1px;background:#5abf70"></div>
  <div class="a t6" style="left:40px;top:60px;line-height:18px">1.希望每个学生都能成才，尽力给学生提供帮助;<br>2.关注学生的身心健康，给学生提供身心健康支持;<br>3.营造良好的班风和学风;<br>4.积极和家长沟通，促进学生的全面发展。</div>
  <div class="a t6" style="left:90px;top:130px">......</div>
</div>
<div class="s" style="left:601px;top:2039px"><div class="tl"></div><div class="pc"></div><div class="l1"></div><div class="l2"></div><div class="pot"></div><div class="ic"></div><div class="tt">学生喜欢什么样的老师</div>
  <div class="box" style="left:22px;top:43px;width:88px;height:94px;background:#f8dcc0;border-radius:14px 0 0 0"></div>
  <div class="a t6" style="left:33px;top:58px;line-height:11px;white-space:normal;width:72px">美国一位著名的教育家花了几十年时间，从九万个学生的<span class="r">"心目中喜欢的教师"</span>信中概括出教师的12个特点，其中有3点最突出。</div>
  <svg class="a" style="left:116px;top:48px" width="34" height="80"><polygon points="0,22 14,22 14,0 32,40 14,80 14,58 0,58" fill="#ee7b62"/></svg>
  <div class="box" style="left:154px;top:42px;width:92px;height:21px;background:#d6ecd0;border-radius:4px"></div>
  <div class="box" style="left:154px;top:77px;width:92px;height:20px;background:#d3e2e3;border-radius:4px"></div>
  <div class="box" style="left:154px;top:111px;width:92px;height:20px;background:#fbd6cc;border-radius:4px"></div>
  <div class="a t6" style="left:158px;top:48px">01. 亲切</div>
  <div class="a t6" style="left:158px;top:83px">02. 友善的态度</div>
  <div class="a t6" style="left:158px;top:117px">03. 尊重课堂内的每一个人</div>
</div>

<!-- ROW 10 -->
<div class="s" style="left:1px;top:2209px"><div class="tl"></div><div class="pc"></div><div class="l1"></div><div class="l2"></div><div class="pot"></div><div class="ic"></div><div class="tt">做学生心中的榜样</div>
  <div class="a t6" style="left:27px;top:32px">班主任需要以下特质，能够更好的管理班级:</div>
  <div class="box" style="left:50px;top:48px;width:210px;height:17px;background:#fff;border:1px solid #e5d8cc;border-radius:5px"></div>
  <div class="box" style="left:50px;top:70px;width:210px;height:17px;background:#fff;border:1px solid #e5d8cc;border-radius:5px"></div>
  <div class="box" style="left:50px;top:92px;width:210px;height:17px;background:#fff;border:1px solid #e5d8cc;border-radius:5px"></div>
  <div class="box" style="left:50px;top:114px;width:210px;height:17px;background:#fff;border:1px solid #e5d8cc;border-radius:5px"></div>
  <div class="a t6 c" style="left:25px;top:51px;width:27px;height:14px;line-height:14px;background:#4f9fb4;color:#fff">勤劳</div>
  <div class="a t6 c" style="left:25px;top:73px;width:27px;height:14px;line-height:14px;background:#5cbf6f;color:#fff">热情</div>
  <div class="a t6 c" style="left:25px;top:95px;width:27px;height:14px;line-height:14px;background:#ef7a5f;color:#fff">冷静</div>
  <div class="a t6 c" style="left:25px;top:117px;width:27px;height:14px;line-height:14px;background:#e0704f;color:#fff">有才华</div>
  <div class="a t6" style="left:62px;top:53px">眼勤、嘴勤、脚勤、手勤。</div>
  <div class="a t6" style="left:62px;top:75px">对待所有的同学热情，感染学生，让学生感受到正能量。</div>
  <div class="a t6" style="left:62px;top:97px">理智，要沉着去工作，按照规章制度办事，遇到问题冷静处理。</div>
  <div class="a t6" style="left:62px;top:119px">班主任要有广博的知识，做好学生的榜样。</div>
</div>
<div class="s" style="left:301px;top:2209px"><div class="tl"></div><div class="pc"></div><div class="l1"></div><div class="l2"></div><div class="pot"></div><div class="ic"></div><div class="tt">先认同再批评教育</div>
  <div class="a" style="left:36px;top:31px;width:238px;height:25px;background:#f6b7a8"></div>
  <div class="a t6" style="left:40px;top:34px;line-height:10px;white-space:normal;width:230px">在批评心理学中，人们把批评的内容夹在两个表扬之中，从而使受批评者可以愉快地接受批评，这种现象称之为<span class="r">三明治效应。</span></div>
  <div class="a" style="left:36px;top:56px;width:238px;height:87px;background:#fbdfd4"></div>
  <div class="a" style="left:8px;top:78px;width:80px;height:60px;background:linear-gradient(135deg,#e9c995 0 30%,#c94b3a 30% 45%,#8dc25a 45% 55%,#f3dcaf 55%);transform:rotate(-30deg);border-radius:6px"></div>
  <div class="a t6" style="left:140px;top:79px">第一层是认同、赏识、肯定、关爱对方的优点或积极的一面;</div>
  <div class="a t6" style="left:140px;top:94px">第二层是建议、批评或不同观点;</div>
  <div class="a t6" style="left:140px;top:109px">第三层是鼓励、希望、信任、支持和帮助，使之保持积极;</div>
  <div class="a" style="left:100px;top:83px;width:38px;height:1px;background:#e22"></div>
  <div class="a" style="left:100px;top:98px;width:38px;height:1px;background:#e22"></div>
  <div class="a" style="left:100px;top:113px;width:38px;height:1px;background:#e22"></div>
</div>
<div class="s" style="left:601px;top:2209px"><div class="tl"></div><div class="pc"></div><div class="l1"></div><div class="l2"></div><div class="pot"></div><div class="ic"></div><div class="tt">先处好关系再教育学生</div>
  <div class="a t7" style="left:35px;top:40px">从某种意义上看，教育的核心是"关系"，良好的师生关系:</div>
  <div class="a" style="left:35px;top:51px;width:240px;height:1px;background:#e88"></div>
  <div class="a t6" style="left:35px;top:56px;line-height:17px"><span class="r">真诚:</span> 你要做一个真诚的老师，对每一个孩子都真诚。<br><span class="r">平等:</span> 平等不是一种姿态，而是从心里把学生当作自己人平等的人。<br><span class="r">尊重:</span> 从学生的角度出发，尊重学生的个性和想法，尤其是情绪。<br><span class="r">互动:</span> 教育不是单方面的教师对学生的知识和培养，同时也是学生对老师的影响。<br><span class="r">信任:</span> 只要师生之间有了信任，教育会变得更加顺利。</div>
</div>

<!-- ROW 11 -->
<div class="s" style="left:1px;top:2379px"><div class="tl"></div><div class="pc"></div><div class="l1"></div><div class="l2"></div><div class="pot"></div><div class="ic"></div><div class="tt">用文化管心</div>
  <div class="a t7 c" style="left:0;top:34px;width:290px;font-size:8px">我们在接手班级时，要思考以下问题:</div>
  <div class="box" style="left:57px;top:51px;width:58px;height:71px;background:#d6ecd0;border-radius:10px"></div>
  <div class="box" style="left:125px;top:51px;width:58px;height:71px;background:#fbd6cc;border-radius:10px"></div>
  <div class="box" style="left:193px;top:51px;width:58px;height:71px;background:#d3e2e3;border-radius:10px"></div>
  <div class="a t6 c" style="left:57px;top:72px;width:58px;line-height:14px">我要给我的班级<br>注入<br>什么样的文化?</div>
  <div class="a t6 c" style="left:125px;top:72px;width:58px;line-height:14px">我要把我的班级<br>带成<br>什么样?</div>
  <div class="a t6 c" style="left:193px;top:72px;width:58px;line-height:14px">我要把我的学生<br>培养成<br>什么样的人?</div>
  <div class="a" style="left:22px;top:72px;width:26px;height:30px;border-radius:50%;background:#3a2a22"></div>
  <div class="a" style="left:25px;top:78px;width:21px;height:26px;border-radius:50%;background:#f1cbb0"></div>
  <div class="a" style="left:12px;top:104px;width:52px;height:64px;border-radius:18px 18px 0 0;background:#25344a"></div>
</div>
<div class="s" style="left:301px;top:2379px"><div class="tl"></div><div class="pc"></div><div class="l1"></div><div class="l2"></div><div class="pot"></div><div class="ic"></div><div class="tt">用文化管心</div>
  <div class="box" style="left:52px;top:50px;width:197px;height:82px;background:#dcedd7;border-radius:12px"></div>
  <div class="a" style="left:52px;top:38px;font-size:10px;font-weight:bold;letter-spacing:1px">服务意识和抗挫折能力:</div>
  <div class="a t7 r" style="left:54px;top:56px;font-weight:bold">1、让别人因为我的存在而感到幸福!</div>
  <div class="a t6" style="left:54px;top:69px">希望每个孩子都能拥有正能量，积极向上，有服务意识，有责任意识，有担当。</div>
  <div class="a t7 r" style="left:54px;top:88px;font-weight:bold">2、办法总比困难多!</div>
  <div class="a t6" style="left:54px;top:100px">希望每个孩子学会做事，学会学习，有克服困难的勇气。</div>
  <div class="a" style="left:6px;top:84px;width:30px;height:36px;border-radius:50%;background:#4a3325"></div>
  <div class="a" style="left:11px;top:92px;width:20px;height:24px;border-radius:50%;background:#f3d2bd"></div>
  <div class="a" style="left:2px;top:116px;width:44px;height:52px;border-radius:12px 12px 0 0;background:#3a2d2a"></div>
  <div class="a" style="left:0;top:124px;width:24px;height:14px;background:#a8c3b0;transform:rotate(-15deg)"></div>
</div>
<div class="s" style="left:601px;top:2379px"><div class="tl"></div><div class="pc"></div><div class="l1"></div><div class="l2"></div><div class="pot"></div><div class="ic"></div><div class="tt">用文化管心</div>
  <div class="a t7" style="left:33px;top:30px">在班级管理中渗透"平等""互助"的理念:</div>
  <div class="a" style="left:33px;top:42px;width:223px;height:109px;background:#d6ecd0"></div>
  <div class="a" style="left:33px;top:42px;width:125px;height:109px;background:#d3e0e1;clip-path:polygon(0 0,100% 0,88% 100%,0 100%)"></div>
  <div class="a t7" style="left:80px;top:46px">平等</div>
  <div class="a t7" style="left:200px;top:46px">互助</div>
  <div class="a t6" style="left:38px;top:62px;line-height:13px">1.每天课，老师和学生一同进教室，<br>同着学生早读;<br>2.对学生一视同仁，而不是只关注优秀;<br>3.遇到学生问题，会相互调;<br>4.在班级活动中，老师始终和学生在一起;<br>......</div>
  <div class="a t6" style="left:162px;top:62px;line-height:13px">1.在班级事务上，提倡"人人有事做，<br>事事有人做";<br>2.在学习方面，开展"学习互助小组"<br>"学生师徒制"等多项活动;<br>3.做好帮带，不放弃每一个学生。</div>
</div>

<!-- ROW 12 -->
<div class="s" style="left:1px;top:2549px"><div class="tl"></div><div class="pc"></div><div class="l1"></div><div class="l2"></div><div class="pot"></div><div class="ic"></div><div class="tt">班级日常管理小秘密</div>
  <div class="a t7 c" style="left:24px;top:44px;width:72px;height:13px;line-height:13px;background:#ef7a5f;color:#fff">进门看"三看"</div>
  <div class="a t7 c" style="left:106px;top:44px;width:72px;height:13px;line-height:13px;background:#5aa8c0;color:#fff">课间要"三听"</div>
  <div class="a t7 c" style="left:185px;top:44px;width:72px;height:13px;line-height:13px;background:#65bf73;color:#fff">闲时要"三动"</div>
  <div class="a" style="left:24px;top:57px;width:72px;height:64px;background:#fbd9cc"></div>
  <div class="a" style="left:106px;top:57px;width:72px;height:64px;background:#d3e2e3"></div>
  <div class="a" style="left:185px;top:57px;width:72px;height:64px;background:#d6ecd0"></div>
  <div class="a t6 c" style="left:24px;top:64px;width:72px;line-height:17px">一看人<br>二看卫生<br>三看精神面貌</div>
  <div class="a t6 c" style="left:106px;top:64px;width:72px;line-height:17px">一听学生说<br>二听老师说<br>三听领导说</div>
  <div class="a t6 c" style="left:185px;top:64px;width:72px;line-height:17px">一动口<br>二动手<br>三动脚</div>
</div>
<div class="s" style="left:301px;top:2549px">
  <div class="a" style="left:-30px;top:86px;width:140px;height:140px;border-radius:50%;background:#f9dcc0"></div>
  <div class="a" style="left:146px;top:0;width:1px;height:18px;background:#8a6a50"></div>
  <div class="a" style="left:123px;top:17px;width:46px;height:28px;border-radius:23px 23px 0 0;background:#8ec7c4"></div>
  <div class="a" style="left:139px;top:44px;width:14px;height:6px;border-radius:0 0 7px 7px;background:#f2a443"></div>
  <div class="a" style="left:282px;top:20px;width:30px;height:30px;border-radius:50%;background:#8ec7c4"></div>
  <div class="a" style="left:71px;top:66px;font-size:14px;font-weight:bold;white-space:nowrap">03&nbsp; 提升班级管理水平的途径</div>
  <div class="a" style="left:50px;top:92px;width:38px;height:46px;background:#86c3c6;transform:rotate(25deg);border-left:7px solid #275d68"></div>
  <svg class="a" style="left:0;top:126px" width="30" height="34"><polygon points="22,3 4,22 22,30" fill="none" stroke="#e65b44" stroke-width="4"/></svg>
</div>
<div class="s" style="left:601px;top:2549px"><div class="tl"></div><div class="pc"></div><div class="l1"></div><div class="l2"></div><div class="pot"></div><div class="ic"></div><div class="tt">向优秀看齐，做智慧班主任</div>
  <div class="box" style="left:21px;top:31px;width:120px;height:117px;background:#fbd6cc;border-radius:8px"></div>
  <div class="box" style="left:146px;top:31px;width:120px;height:117px;background:#d6ecd0;border-radius:8px"></div>
  <div class="a" style="left:26px;top:38px;width:110px;height:48px;background:#eef2f5;border:2px solid #ccd"></div>
  <div class="a" style="left:26px;top:86px;width:110px;height:35px;background:repeating-radial-gradient(circle at 8px 8px,#5a3a2a 0 5px,#3a5f9a 5px 9px)"></div>
  <div class="a" style="left:104px;top:52px;width:8px;height:36px;background:#2a3a60"></div>
  <div class="a" style="left:200px;top:60px;width:10px;height:50px;background:#f08a9a;border-radius:4px"></div>
  <div class="a" style="left:220px;top:80px;width:22px;height:28px;background:#3a4a8a;border-radius:6px"></div>
  <div class="a t7 c r" style="left:21px;top:133px;width:120px">听专家讲座</div>
  <div class="a t7 c r" style="left:146px;top:133px;width:120px">向优秀的同行学习</div>
</div>

<!-- ROW 13 -->
<div class="s" style="left:1px;top:2719px"><div class="tl"></div><div class="pc"></div><div class="l1"></div><div class="l2"></div><div class="pot"></div><div class="ic"></div><div class="tt">向书本学习，做智慧班主任</div>
  <div class="a t7" style="left:26px;top:41px;font-weight:bold">提高班级管理之<span class="r">向书本学习</span></div>
  <div class="a" style="left:24px;top:52px;width:159px;height:41px;background:#fbdfd5"></div>
  <div class="a" style="left:24px;top:99px;width:159px;height:42px;background:#daecd5"></div>
  <div class="a t7" style="left:28px;top:56px">01、看什么?</div>
  <div class="a t6" style="left:28px;top:69px;line-height:10px">教育学、心理学、哲学、名师教学日记、历史<br>......</div>
  <div class="a t7" style="left:28px;top:103px">02、怎么看?</div>
  <div class="a t6" style="left:28px;top:116px;line-height:12px">把看书当成一种兴趣，就会不自觉把自己融入<br>进去，边看书边实践边思考。</div>
  <div class="a" style="left:226px;top:40px;width:32px;height:34px;border-radius:50%;background:#6b4226"></div>
  <div class="a" style="left:230px;top:50px;width:26px;height:28px;border-radius:50%;background:#f6d2b8"></div>
  <div class="a" style="left:232px;top:76px;width:26px;height:36px;border-radius:10px;background:#6fb3d0"></div>
  <div class="a" style="left:196px;top:110px;width:86px;height:16px;background:#f6e2d0;border:2px solid #b85a3a;border-radius:4px"></div>
</div>
<div class="s" style="left:301px;top:2719px"><div class="tl"></div><div class="pc"></div><div class="l1"></div><div class="l2"></div><div class="pot"></div><div class="ic"></div><div class="tt">班级管理的一些心理学知识</div>
  <div class="a" style="left:23px;top:44px;width:77px;height:44px;background:#9fd7a6"></div>
  <div class="a" style="left:103px;top:44px;width:77px;height:44px;background:#a9ccd6"></div>
  <div class="a" style="left:183px;top:44px;width:77px;height:44px;background:#d6ecd3"></div>
  <div class="a" style="left:23px;top:91px;width:77px;height:44px;background:#a9ccd6"></div>
  <div class="a" style="left:103px;top:91px;width:77px;height:44px;background:#9fd7a6"></div>
  <div class="a" style="left:183px;top:91px;width:77px;height:44px;background:#dde3e1"></div>
  <div class="a t6 c" style="left:23px;top:62px;width:77px">三明治效应</div>
  <div class="a t6 c" style="left:103px;top:62px;width:77px">皮格马利翁效应</div>
  <div class="a t6 c" style="left:183px;top:62px;width:77px">德西效应</div>
  <div class="a t6 c" style="left:23px;top:109px;width:77px">破窗效应</div>
  <div class="a t6 c" style="left:103px;top:109px;width:77px">自己人效应</div>
  <div class="a t6 c" style="left:183px;top:109px;width:77px">南风效应</div>
  <div class="a t6" style="left:133px;top:145px">......</div>
</div>
<div class="s" style="left:601px;top:2719px"><div class="tl"></div><div class="pc"></div><div class="l1"></div><div class="l2"></div><div class="pot"></div><div class="ic"></div><div class="tt">向书本学习，做智慧班主任</div>
  <div class="a" style="left:36px;top:43px;width:53px;height:75px;background:linear-gradient(#2a2a2a,#777 60%,#222);box-shadow:0 0 0 2px #fff"></div>
  <div class="a" style="left:116px;top:42px;width:54px;height:76px;background:linear-gradient(#f0c23a 0 60%,#d8382a 60%);box-shadow:0 0 0 2px #fff"></div>
  <div class="a" style="left:193px;top:43px;width:55px;height:75px;background:#fff;border:1px solid #ddd"></div>
  <div class="a" style="left:210px;top:50px;font-size:26px;color:#3a9ab0">10</div>
  <div class="a t6 r" style="left:36px;top:131px;width:60px">《一线带班》</div>
  <div class="a t6 r" style="left:108px;top:131px">《教育智慧从哪里来》</div>
  <div class="a t6 r" style="left:200px;top:131px">《带班有方》</div>
</div>

<!-- ROW 14 -->
<div class="s" style="left:1px;top:2889px"><div class="tl"></div><div class="pc"></div><div class="l1"></div><div class="l2"></div><div class="pot"></div><div class="ic"></div><div class="tt">学会反思，做智慧班主任</div>
  <div class="a t7 c" style="left:0;top:41px;width:280px;font-weight:bold">成为更好的班主任之写带班日记</div>
  <div class="a" style="left:25px;top:54px;width:53px;height:71px;background:#fff repeating-linear-gradient(transparent 0 3px,#ccc 3px 4px);border:1.5px solid #ef7a6a"></div>
  <div class="a" style="left:84px;top:54px;width:53px;height:71px;background:#fff repeating-linear-gradient(transparent 0 3px,#ccc 3px 4px);border:1.5px solid #ef7a6a"></div>
  <div class="a" style="left:143px;top:54px;width:53px;height:71px;background:#fff repeating-linear-gradient(transparent 0 3px,#ccc 3px 4px);border:1.5px solid #ef7a6a"></div>
  <div class="a" style="left:202px;top:54px;width:53px;height:71px;background:#fbd6cc;border:1.5px solid #ef7a6a"></div>
  <div class="a t6 c" style="left:202px;top:65px;width:53px;line-height:13px"><span class="r">反思自己</span><br>做了什么<br>哪些成做<br>哪些不成做?</div>
</div>
<div class="s" style="left:301px;top:2889px"><div class="tl"></div><div class="pc"></div><div class="l1"></div><div class="l2"></div><div class="pot"></div><div class="ic"></div><div class="tt">学会反思，做智慧班主任</div>
  <div class="box" style="left:30px;top:39px;width:138px;height:97px;background:#d8ecd3;border-radius:8px"></div>
  <div class="a" style="left:30px;top:39px;width:138px;height:13px;background:#7cc88a;border-radius:8px 8px 0 0"></div>
  <div class="a t6" style="left:36px;top:41px;color:#fff">成为更好的班主任之写带班日记</div>
  <div class="a t6" style="left:36px;top:62px;line-height:20px">1、反思自己对学生做的话和做的事<br>2、反思自己的教学工作<br>3、反思自己和家长、同事的沟通</div>
  <div class="a" style="left:196px;top:40px;width:36px;height:50px;border-radius:50%;border:1.5px solid #333;background:#fff"></div>
  <div class="a" style="left:190px;top:86px;width:50px;height:40px;background:#f2dd3a;border:1px solid #333;border-radius:10px 10px 0 0"></div>
  <div class="a" style="left:175px;top:115px;width:70px;height:22px;background:#fff;border:1px solid #333;transform:rotate(-8deg)"></div>
  <div class="a t6 r" style="left:30px;top:147px;font-weight:bold">班主任的成长：认识--实践--再认识--再实践</div>
</div>
<div class="s" style="left:601px;top:2889px"><div class="tl"></div><div class="pc"></div><div class="l1"></div><div class="l2"></div><div class="pot"></div><div class="ic"></div><div class="tt">把打造一个优秀的班级成为一种责任</div>
  <div class="box" style="left:24px;top:39px;width:133px;height:96px;background:#d4e2e1;border-radius:8px"></div>
  <div class="a" style="left:24px;top:39px;width:133px;height:13px;background:#5aa8c0;border-radius:8px 8px 0 0"></div>
  <div class="a t6" style="left:30px;top:41px;color:#fff">从今天开始:</div>
  <div class="a t6" style="left:30px;top:58px;line-height:16px">1、对学生多一点鼓励，少一点指责;<br>2、无差别对待每一位学生;<br>3、对学生多一点耐心，少一点急躁;<br>4、对班级多一点思考，少一点抱怨;<br>5、放下身子和学生同乐。</div>
  <div class="box" style="left:162px;top:39px;width:106px;height:96px;background:#d8ecd3;border-radius:8px"></div>
  <div class="a t6" style="left:172px;top:66px;line-height:15px">十年树木，百年树人。<br>教育乃是一个长远之计，<br>树人并非一朝一夕之事。</div>
  <div class="a" style="left:238px;top:55px;width:8px;height:110px;background:#a4804e"></div>
  <div class="a" style="left:212px;top:25px;width:60px;height:38px;border-radius:50%;background:#5fae4e"></div>
  <div class="a" style="left:236px;top:18px;width:44px;height:30px;border-radius:50%;background:#7cc45a"></div>
</div>
</body></html>
